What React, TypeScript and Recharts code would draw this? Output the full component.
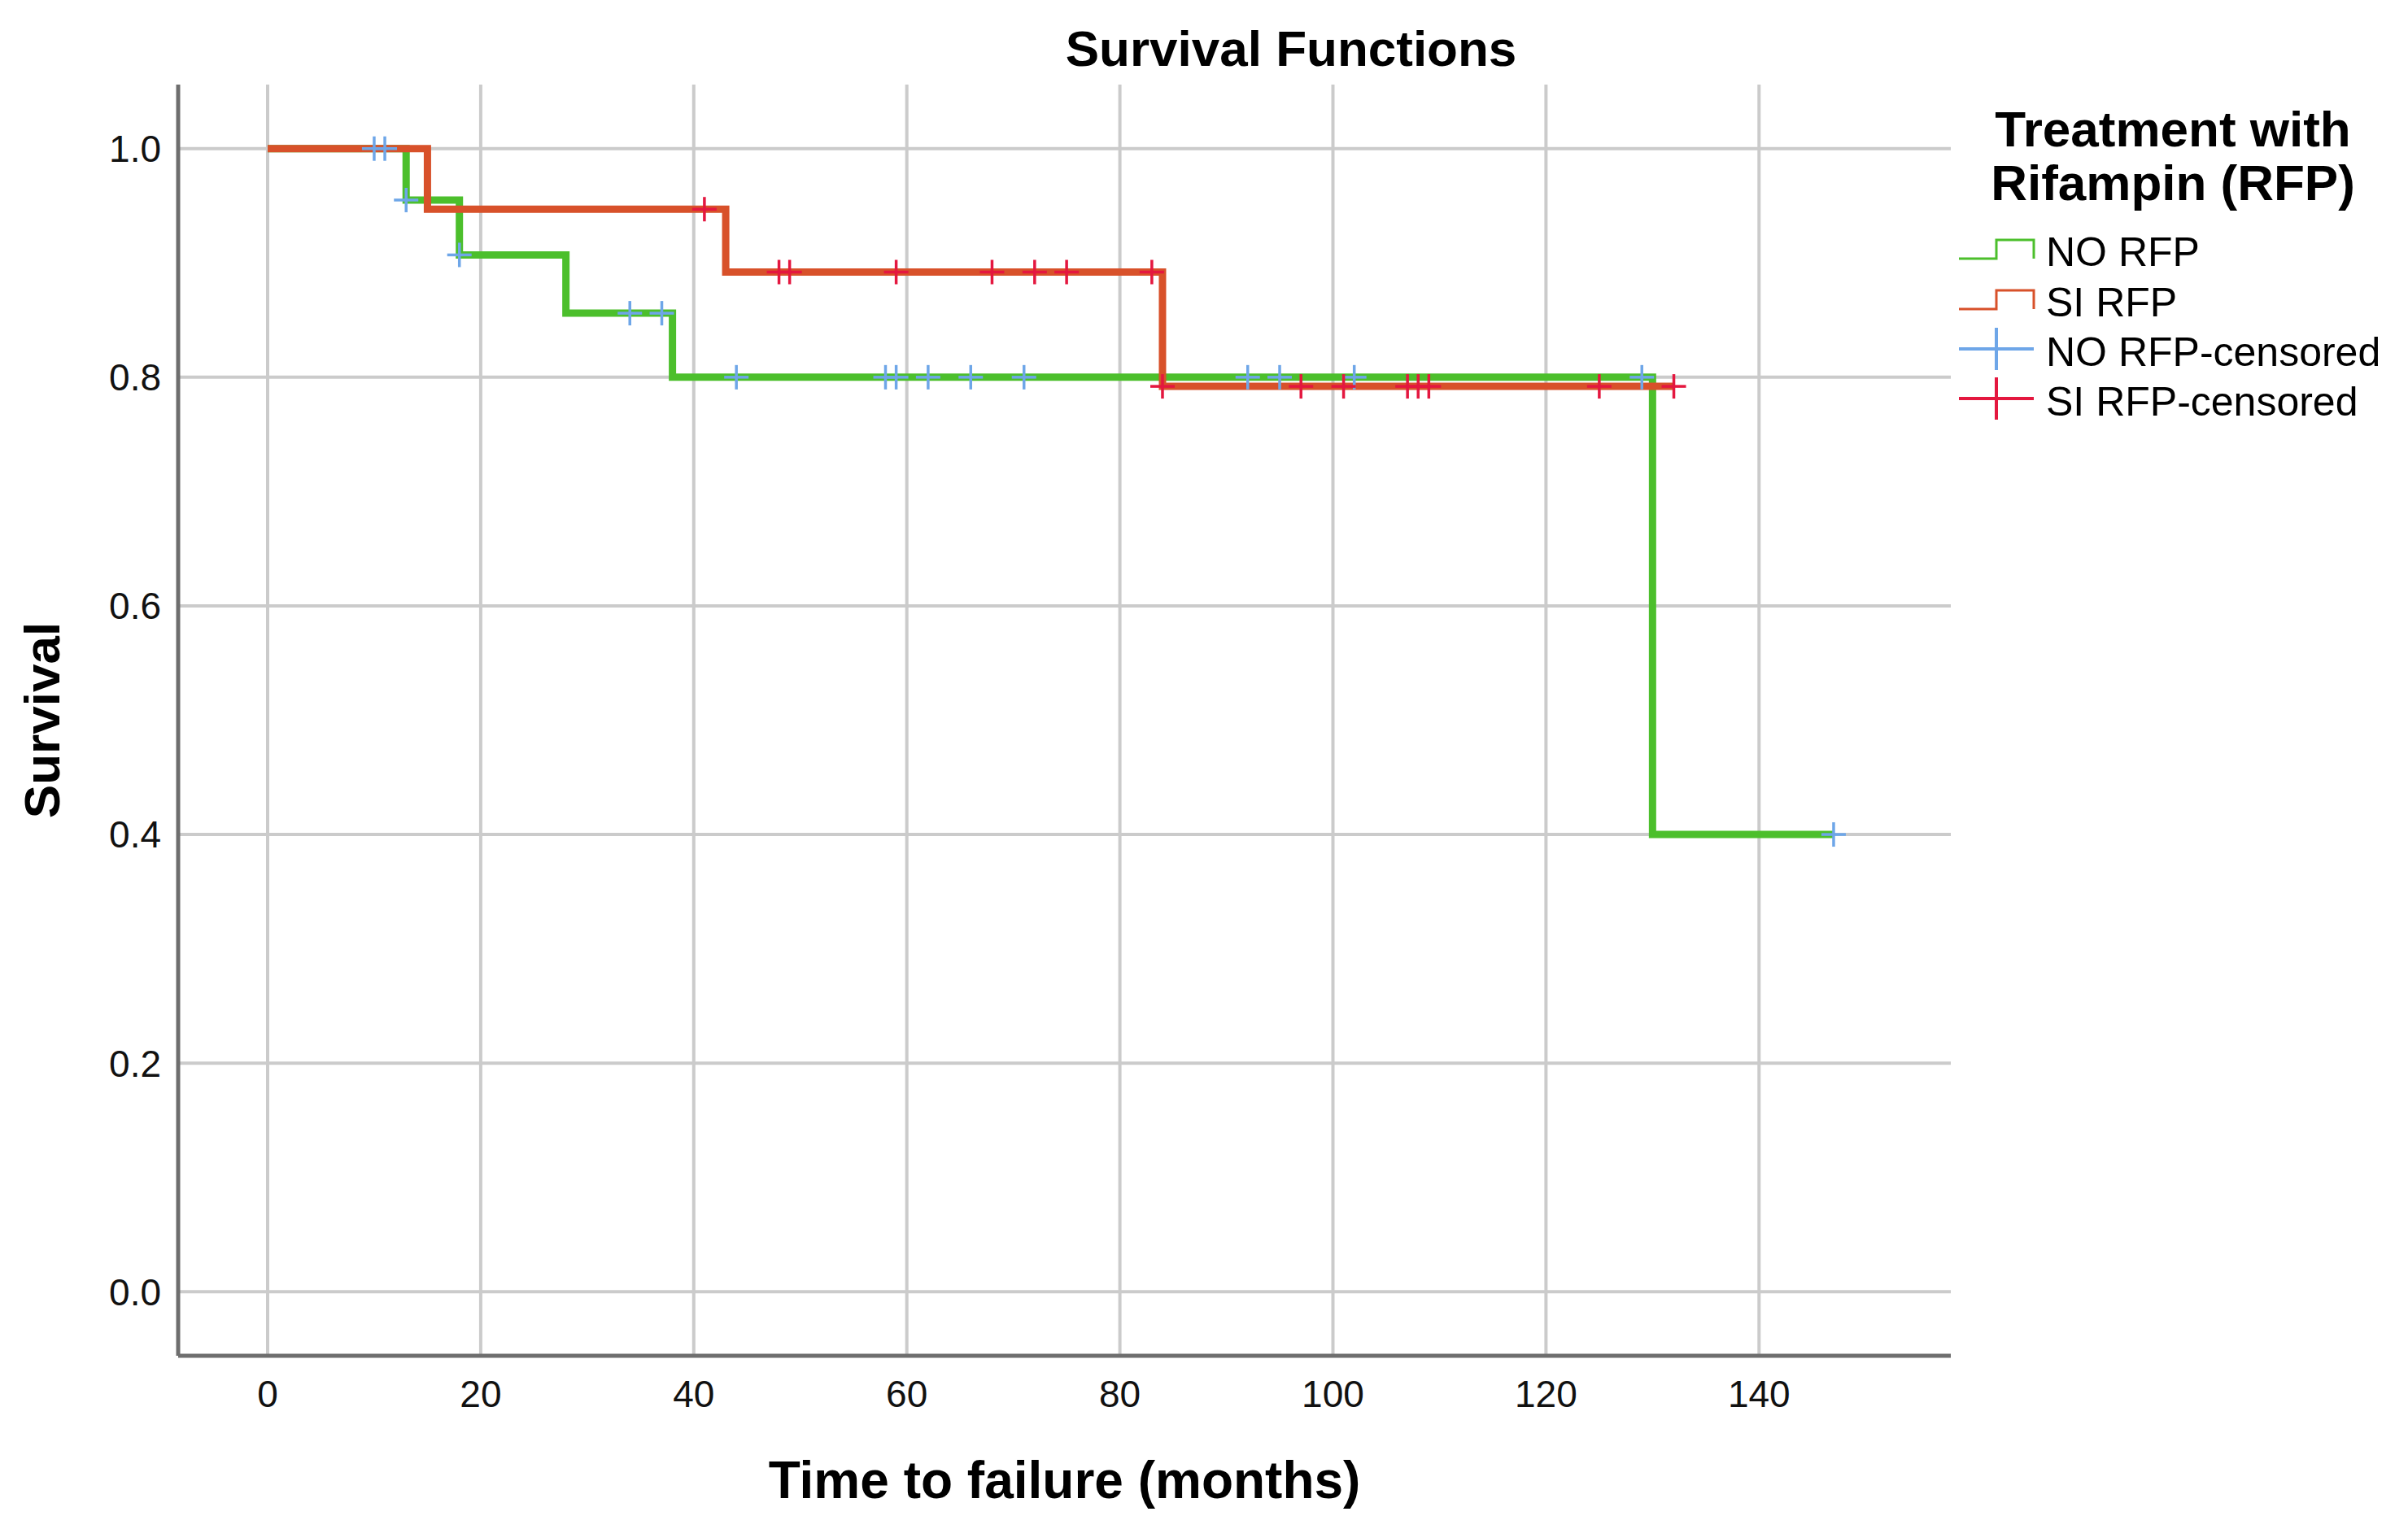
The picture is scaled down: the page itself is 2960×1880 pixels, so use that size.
import {
  ComposedChart,
  Line,
  Scatter,
  XAxis,
  YAxis,
  CartesianGrid,
  Label,
} from "recharts";

const xTicks = [0, 20, 40, 60, 80, 100, 120, 140];
const yTicks = [0, 0.2, 0.4, 0.6, 0.8, 1.0];

// Kaplan-Meier steps (time in months, survival)
const noRfpTimes = [0, 13, 18, 28, 38, 130, 147];
const noRfpSurvival = [1, 0.955, 0.907, 0.856, 0.8, 0.4, 0.4];

const siRfpTimes = [0, 15, 43, 84, 132];
const siRfpSurvival = [1, 0.947, 0.892, 0.792, 0.792];

// censored observations
const noRfpCensorTimes = [10, 11, 13, 18, 34, 37, 44, 58, 59, 62, 66, 71, 92, 95, 102, 129, 147];
const noRfpCensorSurvival = [1, 1, 0.955, 0.907, 0.856, 0.856, 0.8, 0.8, 0.8, 0.8, 0.8, 0.8, 0.8, 0.8, 0.8, 0.8, 0.4];

const siRfpCensorTimes = [41, 48, 49, 59, 68, 72, 75, 83, 84, 97, 101, 107, 108, 109, 125, 132];
const siRfpCensorSurvival = [0.947, 0.892, 0.892, 0.892, 0.892, 0.892, 0.892, 0.892, 0.792, 0.792, 0.792, 0.792, 0.792, 0.792, 0.792, 0.792];

const GREEN = "#4cbf2c";
const ORANGE = "#d8512a";
const BLUE = "#6ea6e8";
const RED = "#e4173f";

const FONT = "'Liberation Sans', Arial, sans-serif";

const zip = (t: number[], s: number[]) => t.map((v, i) => ({ t: v, s: s[i] }));

function Plus({ cx, cy, color }: { cx?: number; cy?: number; color: string }) {
  if (cx == null || cy == null) return null;
  return (
    <g stroke={color} strokeWidth={3.5}>
      <line x1={cx - 15} x2={cx + 15} y1={cy} y2={cy} />
      <line x1={cx} x2={cx} y1={cy - 15} y2={cy + 15} />
    </g>
  );
}

const legendItems = [
  { name: "NO RFP", color: GREEN, kind: "step" },
  { name: "SI RFP", color: ORANGE, kind: "step" },
  { name: "NO RFP-censored", color: BLUE, kind: "plus" },
  { name: "SI RFP-censored", color: RED, kind: "plus" },
];
const legendRowCenters = [310, 372, 433, 494];

export default function App() {
  return (
    <div
      style={{
        position: "absolute",
        left: 0,
        top: 0,
        width: 2960,
        height: 1880,
        background: "#fff",
        fontFamily: FONT,
      }}
    >
      <ComposedChart
        width={2960}
        height={1880}
        margin={{ top: 104, right: 562, bottom: 0, left: 0 }}
      >
        <CartesianGrid stroke="#cbcbcb" strokeWidth={4} syncWithTicks />
        <XAxis
          dataKey="t"
          type="number"
          domain={[-8.4, 158]}
          ticks={xTicks}
          allowDataOverflow
          height={213}
          tickLine={false}
          tickSize={0}
          tickMargin={30}
          axisLine={{ stroke: "#6e6e6e", strokeWidth: 5 }}
          tick={{ fill: "#111", fontSize: 46, fontFamily: FONT }}
        >
          <Label
            content={({ viewBox }: any) => (
              <text
                x={viewBox.x + viewBox.width / 2}
                y={1820}
                textAnchor="middle"
                dominantBaseline="central"
                fontSize={64}
                fontWeight={700}
                fontFamily={FONT}
                fill="#000"
              >
                Time to failure (months)
              </text>
            )}
          />
        </XAxis>
        <YAxis
          dataKey="s"
          type="number"
          domain={[-0.056, 1.056]}
          ticks={yTicks}
          allowDataOverflow
          width={219}
          tickLine={false}
          tickSize={0}
          tickMargin={21}
          tickFormatter={(v: number) => v.toFixed(1)}
          axisLine={{ stroke: "#6e6e6e", strokeWidth: 5 }}
          tick={{ fill: "#111", fontSize: 46, fontFamily: FONT }}
        >
          <Label
            content={({ viewBox }: any) => {
              const cy = viewBox.y + viewBox.height / 2;
              return (
                <text
                  x={51}
                  y={cy}
                  transform={`rotate(-90, 51, ${cy})`}
                  textAnchor="middle"
                  dominantBaseline="central"
                  fontSize={62}
                  fontWeight={700}
                  fontFamily={FONT}
                  fill="#000"
                >
                  Survival
                </text>
              );
            }}
          />
        </YAxis>

        <Line
          data={zip(noRfpTimes, noRfpSurvival)}
          dataKey="s"
          type="stepAfter"
          stroke={GREEN}
          strokeWidth={9}
          dot={false}
          activeDot={false}
          isAnimationActive={false}
        />
        <Line
          data={zip(siRfpTimes, siRfpSurvival)}
          dataKey="s"
          type="stepAfter"
          stroke={ORANGE}
          strokeWidth={9}
          dot={false}
          activeDot={false}
          isAnimationActive={false}
        />
        <Scatter
          data={zip(noRfpCensorTimes, noRfpCensorSurvival)}
          dataKey="s"
          isAnimationActive={false}
          shape={(p: any) => <Plus cx={p.cx} cy={p.cy} color={BLUE} />}
        />
        <Scatter
          data={zip(siRfpCensorTimes, siRfpCensorSurvival)}
          dataKey="s"
          isAnimationActive={false}
          shape={(p: any) => <Plus cx={p.cx} cy={p.cy} color={RED} />}
        />
      </ComposedChart>

      <div
        style={{
          position: "absolute",
          left: 1087,
          width: 1000,
          top: 25,
          lineHeight: "70px",
          textAlign: "center",
          fontSize: 62,
          fontWeight: 700,
        }}
      >
        Survival Functions
      </div>

      <div style={{ position: "absolute", left: 2400, top: 0, width: 560, height: 600 }}>
        <div
          style={{
            position: "absolute",
            left: 0,
            width: 542,
            top: 126,
            lineHeight: "66px",
            textAlign: "center",
            fontSize: 62,
            fontWeight: 700,
          }}
        >
          Treatment with
          <br />
          Rifampin (RFP)
        </div>
        {legendItems.map((item, i) => (
          <div
            key={item.name}
            style={{ position: "absolute", left: 0, top: legendRowCenters[i] - 30, height: 60, width: 560 }}
          >
            <svg
              width={100}
              height={60}
              style={{ position: "absolute", left: 8, top: 0, overflow: "visible" }}
            >
              {item.kind === "step" ? (
                <path d="M0,38 H46 V15 H92 V38" fill="none" stroke={item.color} strokeWidth={3} />
              ) : (
                <g stroke={item.color} strokeWidth={4}>
                  <line x1={0} x2={92} y1={26} y2={26} />
                  <line x1={46} x2={46} y1={0} y2={52} />
                </g>
              )}
            </svg>
            <div
              style={{
                position: "absolute",
                left: 115,
                top: 0,
                lineHeight: "60px",
                fontSize: 50,
                whiteSpace: "nowrap",
                color: "#000",
              }}
            >
              {item.name}
            </div>
          </div>
        ))}
      </div>
    </div>
  );
}
